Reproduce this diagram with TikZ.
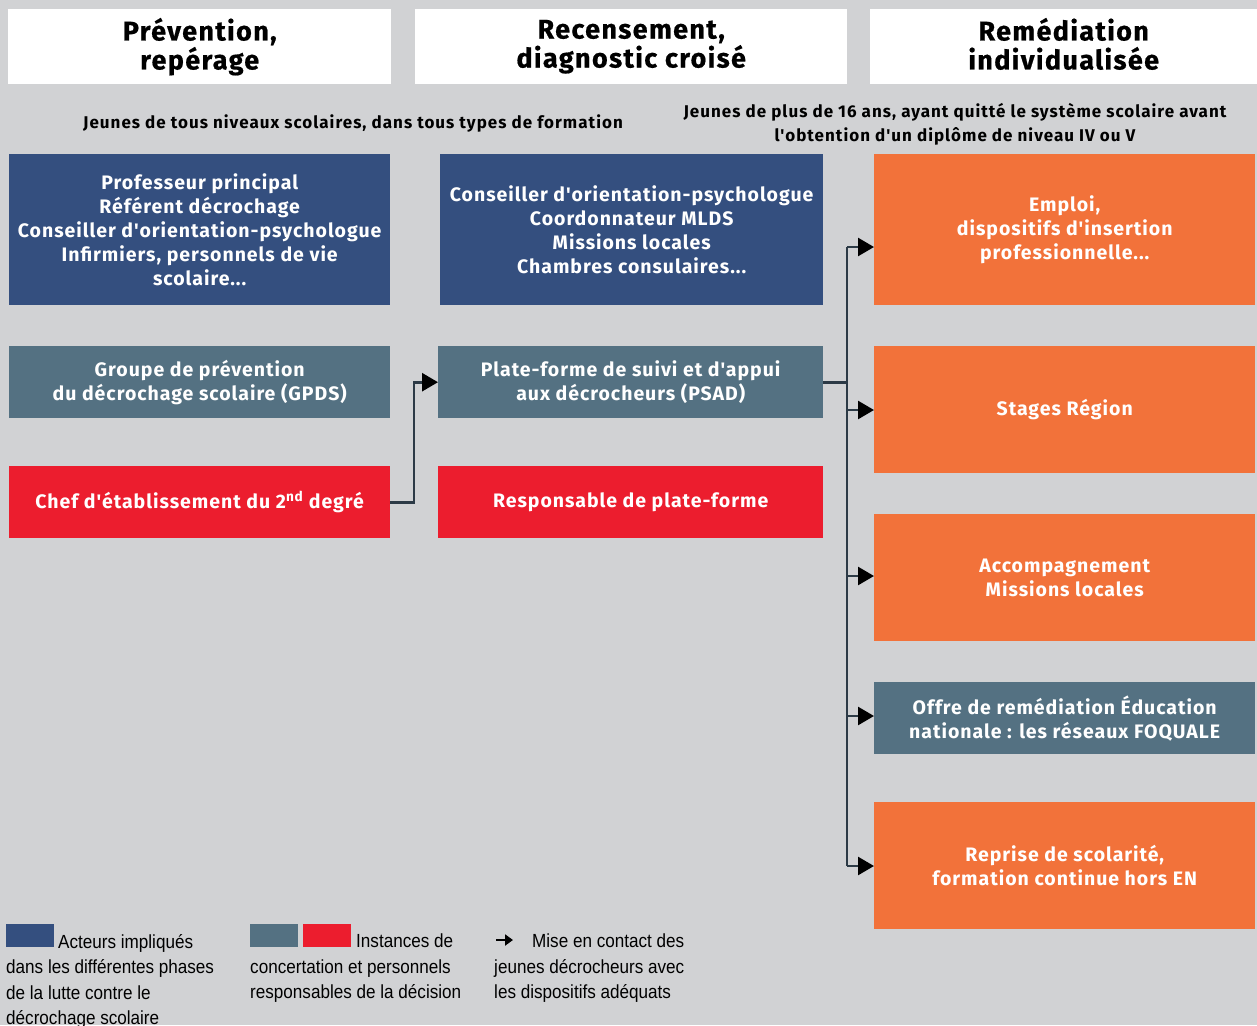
\documentclass[tikz,border=0pt]{standalone}
\usepackage{fontspec}
\setmainfont{Fira Sans}
\newfontfamily\boxfont[LetterSpace=5]{Fira Sans}
\newfontfamily\subfont[LetterSpace=6]{Fira Sans}
\newfontfamily\headfont[LetterSpace=5,FakeBold=0.6]{Fira Sans}
\newfontfamily\legfont[FakeStretch=0.9]{Liberation Sans}
\usetikzlibrary{arrows.meta}
\definecolor{bggray}{RGB}{209,210,212}
\definecolor{actblue}{RGB}{52,79,127}
\definecolor{slate}{RGB}{84,113,130}
\definecolor{decred}{RGB}{236,29,46}
\definecolor{remorange}{RGB}{242,114,58}
\definecolor{linecol}{RGB}{44,58,70}
\tikzset{
  box/.style={anchor=north west, inner sep=0pt, align=center, text=white,
    font=\boxfont\bfseries\fontsize{19.5}{24}\selectfont},
  headbox/.style={anchor=north west, inner sep=0pt, align=center, fill=white, text=black,
    font=\headfont\bfseries\fontsize{27}{29}\selectfont},
  subtitle/.style={align=center, font=\subfont\bfseries\fontsize{17}{24}\selectfont},
  legtext/.style={anchor=north west, inner sep=0pt, align=left,
    font=\legfont\fontsize{19}{25.5}\selectfont},
  conn/.style={draw=linecol, line width=2.6pt},
  arr/.style={conn, -{Triangle[length=16pt,width=18pt,fill=black,color=black]}},
}
\begin{document}
\begin{tikzpicture}[x=1pt,y=-1pt]
\fill[bggray] (0,0) rectangle (1257,1025);
\useasboundingbox (0,0) rectangle (1257,1025);
% headers
\node[headbox, minimum width=383pt, minimum height=75pt] (h1) at (8,9) {Prévention,\\repérage};
\node[headbox, minimum width=432pt, minimum height=75pt] (h2) at (415,9) {Recensement,\\diagnostic croisé};
\node[headbox, minimum width=387pt, minimum height=75pt] (h3) at (870,9) {Remédiation\\individualisée\vphantom{p}};
% subtitles
\node[subtitle] (s1) at (353,123) {Jeunes de tous niveaux scolaires, dans tous types de formation};
\node[subtitle] (s2) at (955,124) {Jeunes de plus de 16 ans, ayant quitté le système scolaire avant\\l'obtention d'un diplôme de niveau IV ou V};
% column 1
\node[box, fill=actblue, minimum width=381pt, minimum height=151pt] (a1) at (9,154)
  {Professeur principal\\Référent décrochage\\Conseiller d'orientation-psychologue\\Infirmiers, personnels de vie\\scolaire...};
\node[box, fill=slate, minimum width=381pt, minimum height=72pt] (gpds) at (9,346)
  {Groupe de prévention\\du décrochage scolaire (GPDS)};
\node[box, fill=decred, minimum width=381pt, minimum height=72pt] (chef) at (9,466)
  {Chef d'établissement du 2\textsuperscript{nd} degré};
% column 2
\node[box, fill=actblue, minimum width=383pt, minimum height=151pt] (a2) at (440,154)
  {Conseiller d'orientation-psychologue\\Coordonnateur MLDS\\Missions locales\\Chambres consulaires...};
\node[box, fill=slate, minimum width=385pt, minimum height=72pt] (psad) at (438,346)
  {Plate-forme de suivi et d'appui\\aux décrocheurs (PSAD)};
\node[box, fill=decred, minimum width=385pt, minimum height=72pt] (resp) at (438,466)
  {Responsable de plate-forme};
% column 3
\node[box, fill=remorange, minimum width=381pt, minimum height=151pt] (o1) at (874,154)
  {Emploi,\\dispositifs d'insertion\\professionnelle...};
\node[box, fill=remorange, minimum width=381pt, minimum height=127pt] (o2) at (874,346)
  {Stages Région};
\node[box, fill=remorange, minimum width=381pt, minimum height=127pt] (o3) at (874,514)
  {Accompagnement\\Missions locales};
\node[box, fill=slate, minimum width=381pt, minimum height=72pt] (o4) at (874,682)
  {Offre de remédiation Éducation\\nationale : les réseaux FOQUALE};
\node[box, fill=remorange, minimum width=381pt, minimum height=127pt] (o5) at (874,802)
  {Reprise de scolarité,\\formation continue hors EN};
% connectors
\draw[arr] (chef.east) -- (chef.east -| 414,0) |- (psad.west);
\coordinate (trunk) at (psad.east -| 847,0);
\coordinate (ttop) at (847,247);
\coordinate (tbot) at (847,866);
\draw[conn] (psad.east) -- (trunk);
\draw[conn] (ttop) -- (tbot);
\draw[arr] (ttop) -- (o1.west |- ttop);
\draw[arr] (trunk) |- (o2.west |- 0,410);
\draw[arr] (847,576) -- (o3.west |- 0,576);
\draw[arr] (847,716) -- (o4.west |- 0,716);
\draw[arr] (tbot) -- (o5.west |- tbot);
% legend
\node[anchor=north west, fill=actblue, minimum width=48pt, minimum height=23pt, inner sep=0pt] (lg1) at (6,924) {};
\node[legtext] (lt1) at (6,934) {\hspace{52pt}Acteurs impliqués\\dans les différentes phases\\de la lutte contre le\\décrochage scolaire};
\node[anchor=north west, fill=slate, minimum width=48pt, minimum height=23pt, inner sep=0pt] (lg2) at (250,924) {};
\node[anchor=north west, fill=decred, minimum width=48pt, minimum height=23pt, inner sep=0pt] (lg3) at (303,924) {};
\node[legtext] (lt2) at (250,934) {\hspace{106pt}Instances de\\concertation et personnels\\responsables de la décision};
\coordinate (la1) at (496,940);
\coordinate (la2) at (513,940);
\draw[line width=2.5pt, -{Triangle[length=8pt,width=11pt]}] (la1) -- (la2);
\node[legtext] (lt3) at (494,934) {\hspace{38pt}Mise en contact des\\jeunes décrocheurs avec\\les dispositifs adéquats};
\end{tikzpicture}
\end{document}
